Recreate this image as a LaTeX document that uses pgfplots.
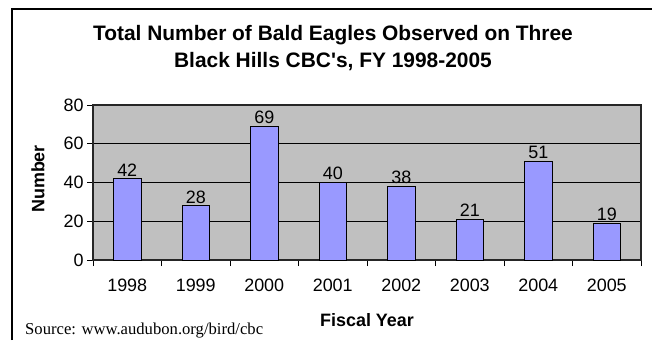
\documentclass[border=0pt]{standalone}
\usepackage{pgfplots}
\pgfplotsset{compat=1.18}
\usepackage{fontspec}
\setmainfont{Liberation Sans}
\newfontfamily\timesfont{Liberation Serif}
\definecolor{barblue}{HTML}{9999FF}
\definecolor{plotgray}{HTML}{C0C0C0}
\begin{document}
\begin{tikzpicture}[x=1bp,y=1bp]
\useasboundingbox (0,0) rectangle (652,340);
\fill[white] (0,0) rectangle (652,340);
\draw[line width=1.2bp] (12,0) -- (12,331) -- (652,331);
\node[font=\fontsize{21}{24}\selectfont\bfseries] at (333,305) {Total Number of Bald Eagles Observed on Three};
\node[font=\fontsize{21}{24}\selectfont\bfseries] at (333,278) {Black Hills CBC\textquotesingle s, FY 1998-2005};
\node[font=\fontsize{16.7}{18}\selectfont\timesfont, anchor=west, inner sep=0pt] at (25,9) {Source: www.audubon.org/bird/cbc};
\begin{axis}[
  at={(93bp,80bp)}, anchor=south west,
  scale only axis, width=548bp, height=155bp,
  xmin=-0.5, xmax=7.5, ymin=0, ymax=80,
  axis background/.style={fill=plotgray},
  ybar, bar width=0.4,
  ytick={0,20,40,60,80},
  xtick={-0.5,0.5,...,7.5},
  x tick label as interval,
  xticklabels={1998,1999,2000,2001,2002,2003,2004,2005},
  tick align=outside, tick pos=left,
  major tick length=6bp,
  tick style={black, line width=0.8bp},
  ymajorgrids, grid style={black, line width=0.8bp},
  axis line style={black!85, line width=1.2bp},
  /pgf/number format/assume math mode=true,
  tick label style={font=\fontsize{18}{18}\selectfont},
  xticklabel style={yshift=-9bp},
  ylabel={Number}, xlabel={Fiscal Year},
  label style={font=\fontsize{18}{18}\selectfont\bfseries},
  ylabel style={at={(axis description cs:-0.1004,0.523)}, anchor=center},
  xlabel style={at={(axis description cs:0.5,-0.387)}, anchor=center},
  nodes near coords,
  every node near coord/.append style={font=\fontsize{18}{18}\selectfont, inner sep=2bp, black},
]
\addplot[fill=barblue, draw=black, line width=0.8bp] coordinates {(0,42) (1,28) (2,69) (3,40) (4,38) (5,21) (6,51) (7,19)};
\end{axis}
\end{tikzpicture}
\end{document}
